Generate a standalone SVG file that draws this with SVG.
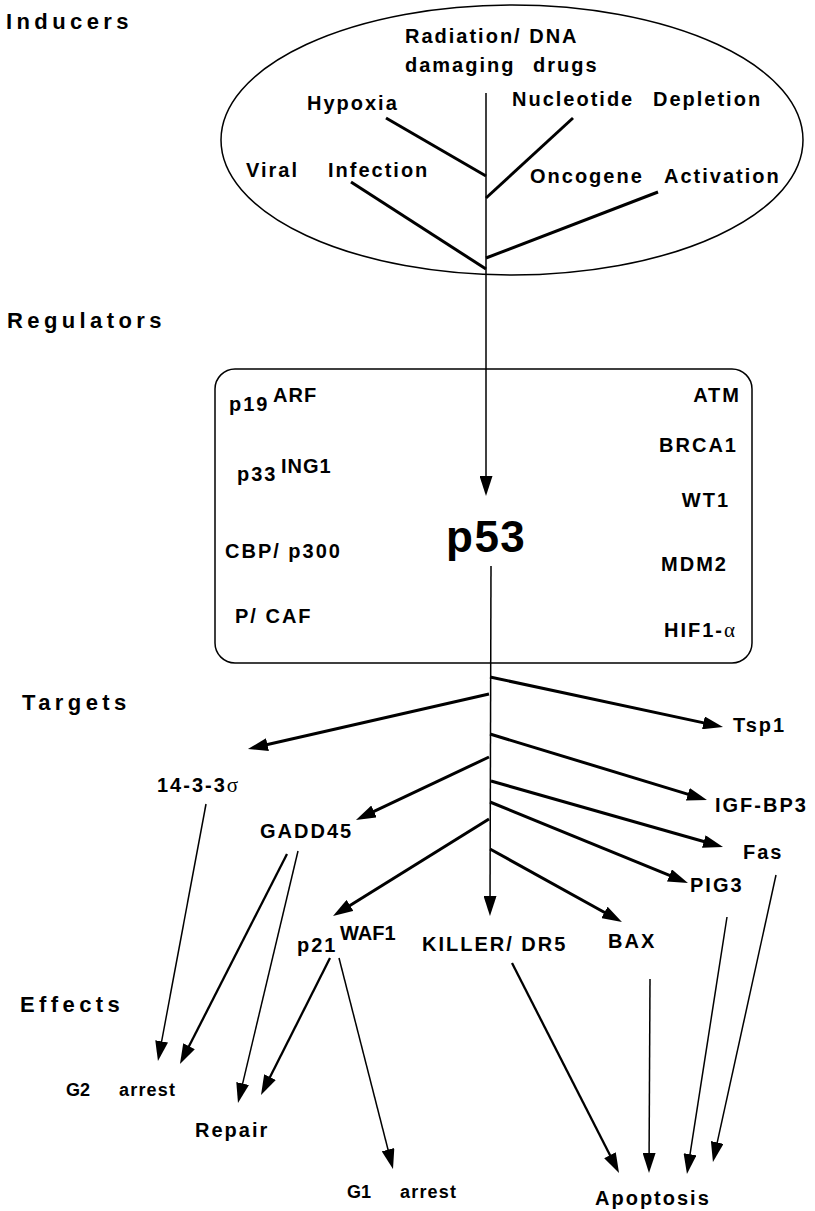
<svg xmlns="http://www.w3.org/2000/svg" width="815" height="1211" viewBox="0 0 815 1211">
<style>
.t{font-family:"Liberation Sans",Arial,sans-serif;font-weight:bold;font-size:20px;letter-spacing:2px;fill:#000}
.h{font-size:22px;letter-spacing:4.4px}
.big{font-size:44px;letter-spacing:1.5px}
.e{font-size:18px;letter-spacing:1.2px}
.sym{font-family:"Liberation Serif","Times New Roman",serif;font-weight:normal}
.ln{stroke:#000;fill:none;stroke-width:1.5}
.k{stroke-width:3}
.m{stroke-width:2.3}
</style>
<defs>
<marker id="ah" viewBox="0 0 20 13" refX="10" refY="6.5" markerWidth="20" markerHeight="13" markerUnits="userSpaceOnUse" orient="auto">
<path d="M0,0 L20,6.5 L0,13 Z" fill="#000"/>
</marker>
</defs>
<rect width="815" height="1211" fill="#fff"/>

<g id="section-labels">
<text class="t h" x="6" y="29">Inducers</text>
<text class="t h" x="7" y="328">Regulators</text>
<text class="t h" x="22" y="710">Targets</text>
<text class="t h" x="20" y="1012">Effects</text>
</g>

<g id="inducers">
<ellipse cx="512" cy="140" rx="291" ry="135" class="ln"/>
<text class="t" x="405" y="43">Radiation/ DNA</text>
<text class="t"><tspan x="405" y="72">damaging </tspan><tspan x="533" y="72">drugs</tspan></text>
<text class="t" x="307" y="110">Hypoxia</text>
<text class="t"><tspan x="512" y="106">Nucleotide </tspan><tspan x="653" y="106">Depletion</tspan></text>
<text class="t"><tspan x="246" y="177">Viral </tspan><tspan x="328" y="177">Infection</tspan></text>
<text class="t"><tspan x="530" y="183">Oncogene </tspan><tspan x="664" y="183">Activation</tspan></text>
</g>

<g id="regulators">
<rect x="215" y="369" width="537" height="294" rx="20" ry="20" class="ln"/>
<text class="t" x="229" y="411">p19<tspan x="273" y="402" letter-spacing="1">ARF</tspan></text>
<text class="t" x="237" y="481">p33<tspan x="281" y="473" letter-spacing="1">ING1</tspan></text>
<text class="t" x="225" y="558" letter-spacing="1.7">CBP/ p300</text>
<text class="t" x="235" y="623">P/ CAF</text>
<text class="t" x="741" y="402" text-anchor="end">ATM</text>
<text class="t" x="738" y="452" text-anchor="end">BRCA1</text>
<text class="t" x="730" y="507" text-anchor="end">WT1</text>
<text class="t" x="728" y="571" text-anchor="end" letter-spacing="1">MDM2</text>
<text class="t" x="737" y="637" text-anchor="end" letter-spacing="1">HIF1-<tspan class="sym" font-size="21">α</tspan></text>
</g>

<g id="p53">
<text class="t big" x="446" y="552">p53</text>
</g>

<g id="targets">
<text class="t" x="733" y="732">Tsp1</text>
<text class="t" x="157" y="792" letter-spacing="5">14-3-3<tspan class="sym" font-size="21" letter-spacing="0">σ</tspan></text>
<text class="t" x="715" y="812" letter-spacing="1.4">IGF-BP3</text>
<text class="t" x="260" y="838" letter-spacing="1.8">GADD45</text>
<text class="t" x="743" y="859" letter-spacing="3">Fas</text>
<text class="t" x="690" y="892" letter-spacing="1.5">PIG3</text>
<text class="t" x="297" y="952">p21<tspan x="340" y="940" letter-spacing="0">WAF1</tspan></text>
<text class="t" x="422" y="951" letter-spacing="1.3">KILLER/ DR5</text>
<text class="t" x="608" y="948" letter-spacing="1.5">BAX</text>
</g>

<g id="effects">
<text class="t e"><tspan x="66" y="1096" letter-spacing="0">G2 </tspan><tspan x="119" y="1096">arrest</tspan></text>
<text class="t" x="195" y="1137" letter-spacing="3">Repair</text>
<text class="t e"><tspan x="347" y="1198" letter-spacing="0">G1 </tspan><tspan x="400" y="1198">arrest</tspan></text>
<text class="t" x="595" y="1205" letter-spacing="2.7">Apoptosis</text>
</g>

<g id="connectors">
<line class="ln" x1="486" y1="93" x2="486" y2="486" marker-end="url(#ah)"/>
<line class="ln k" x1="386" y1="118" x2="486" y2="176"/>
<line class="ln k" x1="573" y1="118" x2="486" y2="198"/>
<line class="ln k" x1="351" y1="182" x2="486" y2="269"/>
<line class="ln k" x1="658" y1="192" x2="486" y2="258"/>

<line class="ln" x1="491" y1="566" x2="490" y2="906" marker-end="url(#ah)"/>
<line class="ln k" x1="490" y1="677" x2="713.2" y2="724.9" marker-end="url(#ah)"/>
<line class="ln k" x1="489" y1="694" x2="257.7" y2="746.8" marker-end="url(#ah)"/>
<line class="ln k" x1="490" y1="734" x2="697.4" y2="797.1" marker-end="url(#ah)"/>
<line class="ln k" x1="489" y1="757" x2="365" y2="815.7" marker-end="url(#ah)"/>
<line class="ln k" x1="491" y1="781" x2="713.4" y2="844.3" marker-end="url(#ah)"/>
<line class="ln k" x1="490" y1="802" x2="678.7" y2="879.2" marker-end="url(#ah)"/>
<line class="ln k" x1="489" y1="819" x2="341.5" y2="910.7" marker-end="url(#ah)"/>
<line class="ln k" x1="490" y1="849" x2="613.2" y2="917.2" marker-end="url(#ah)"/>

<line class="ln" x1="206" y1="804" x2="159.8" y2="1051.2" marker-end="url(#ah)"/>
<line class="ln m" x1="287" y1="854" x2="184.5" y2="1055.1" marker-end="url(#ah)"/>
<line class="ln" x1="298" y1="851" x2="240.3" y2="1093.3" marker-end="url(#ah)"/>
<line class="ln m" x1="330" y1="958" x2="265.5" y2="1086.1" marker-end="url(#ah)"/>
<line class="ln" x1="339" y1="958" x2="390.5" y2="1159.3" marker-end="url(#ah)"/>
<line class="ln m" x1="512" y1="963" x2="614.5" y2="1164.1" marker-end="url(#ah)"/>
<line class="ln" x1="650" y1="979" x2="649.05" y2="1163" marker-end="url(#ah)"/>
<line class="ln" x1="727" y1="917" x2="688.5" y2="1164.1" marker-end="url(#ah)" stroke-width="1.8"/>
<line class="ln" x1="776" y1="875" x2="715.1" y2="1152.2" marker-end="url(#ah)" stroke-width="1.8"/>
</g>
</svg>
